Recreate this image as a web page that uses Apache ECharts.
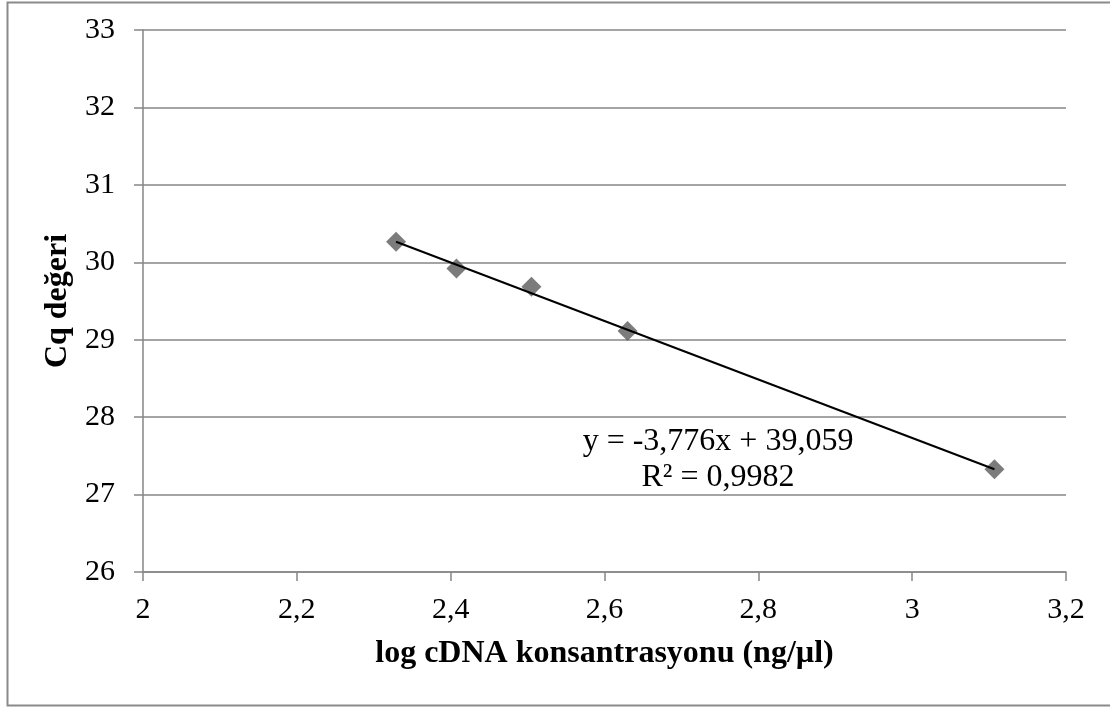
<!DOCTYPE html>
<html><head><meta charset="utf-8">
<script src="https://cdn.jsdelivr.net/npm/echarts@6/dist/echarts.min.js"></script>
<style>html,body{margin:0;padding:0;background:#fff}#c{width:1110px;height:709px}</style>
</head><body><div id="c"></div>
<script>
const logConc = [2.329, 2.4075, 2.505, 2.630, 3.107];
const cqValues = [30.266, 29.92, 29.685, 29.113, 27.327];
const slope = -3.776, intercept = 39.059;
const eqText = 'y = -3,776x + 39,059';
const r2Text = 'R² = 0,9982';
const xTitle = 'log cDNA konsantrasyonu (ng/µl)';
const yTitle = 'Cq değeri';

const xMin = Math.min(...logConc), xMax = Math.max(...logConc);
const trend = [[xMin, slope * xMin + intercept], [xMax, slope * xMax + intercept]];
const font = '"Liberation Serif", "Times New Roman", serif';
const chart = echarts.init(document.getElementById('c'), null, {renderer: 'canvas'});
chart.setOption({
  animation: false,
  backgroundColor: '#fff',
  grid: {left: 143, right: 44, top: 30, bottom: 137, containLabel: false},
  xAxis: {
    type: 'value', min: 2, max: 3.2, interval: 0.2,
    name: xTitle, nameLocation: 'middle', nameGap: 66,
    nameTextStyle: {fontFamily: font, fontSize: 32, fontWeight: 'bold', color: '#000'},
    axisLine: {show: true, onZero: false, lineStyle: {color: '#868686', width: 1.5}},
    axisTick: {show: true, inside: false, length: 9, lineStyle: {color: '#868686', width: 1.5}},
    axisLabel: {fontFamily: font, fontSize: 30, color: '#000', margin: 23,
      formatter: v => String(+v.toFixed(1)).replace('.', ',')},
    splitLine: {show: false}
  },
  yAxis: {
    type: 'value', min: 26, max: 33, interval: 1,
    name: yTitle, nameLocation: 'middle', nameGap: 67, nameRotate: 90,
    nameTextStyle: {fontFamily: font, fontSize: 32, fontWeight: 'bold', color: '#000'},
    axisLine: {show: true, lineStyle: {color: '#868686', width: 1.5}},
    axisTick: {show: true, inside: false, length: 9, lineStyle: {color: '#868686', width: 1.5}},
    axisLabel: {fontFamily: font, fontSize: 30, color: '#000', margin: 28},
    splitLine: {show: true, lineStyle: {color: '#868686', width: 1.5}}
  },
  graphic: [
    {type: 'rect', left: 5, top: 0, z: -10, silent: true,
      shape: {width: 1115, height: 703},
      style: {fill: 'none', stroke: '#8a8a8a', lineWidth: 2}},
    {type: 'text', x: 718, y: 442, z: 100,
      style: {text: eqText, font: '32px ' + font, fill: '#000', textAlign: 'center', textVerticalAlign: 'middle'}},
    {type: 'text', x: 718, y: 478, z: 100,
      style: {text: r2Text, font: '32px ' + font, fill: '#000', textAlign: 'center', textVerticalAlign: 'middle'}}
  ],
  series: [
    {type: 'scatter', data: logConc.map((x, i) => [x, cqValues[i]]),
      symbol: 'diamond', symbolSize: 20, itemStyle: {color: '#5b5b5b'}, z: 2},
    {type: 'line', data: trend, symbol: 'none', lineStyle: {color: '#000', width: 2}, z: 3}
  ]
});
</script></body></html>
